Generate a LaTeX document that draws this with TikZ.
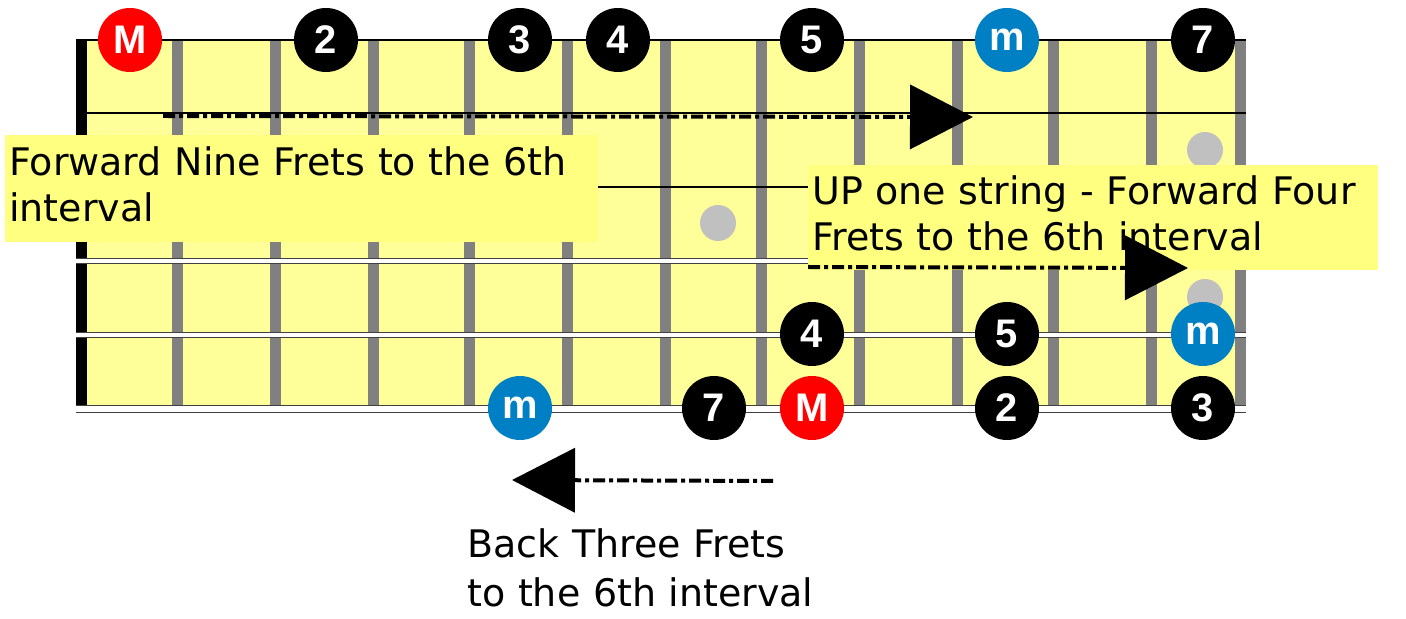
\documentclass[tikz,border=0pt]{standalone}
\usepackage{fontspec}
\setmainfont{DejaVu Sans}
\newfontfamily\notefont{Liberation Sans}
\usetikzlibrary{arrows.meta}
\definecolor{neck-yellow}{HTML}{FFFF99}
\definecolor{tag-yellow}{HTML}{FFFF80}
\definecolor{fret-grey}{HTML}{808080}
\definecolor{inlay-grey}{HTML}{C0C0C0}
\definecolor{root-red}{HTML}{FF0000}
\definecolor{minor-blue}{HTML}{0080C4}
\colorlet{degree}{black}
\tikzset{
  note/.style={circle, inner sep=0pt, minimum size=12.8mm, text=white, font=\notefont\bfseries\fontsize{22.7}{24}\selectfont},
  tag/.style={fill=tag-yellow, anchor=north west, align=left, inner xsep=0.8mm, inner ysep=0pt, font=\fontsize{21.6}{26.4}\selectfont},
  move-path/.style={line width=0.8mm, dash pattern=on 2.4mm off 0.8mm on 0.8mm off 0.8mm, -{Triangle[length=12.6mm, width=12.8mm]}},
  plain-string/.style={line width=0.3mm},
  wound-string/.style={draw=black!75, line width=0.3mm, double=white, double distance=#1},
}

\begin{document}
\begin{tikzpicture}[x=0.2mm, y=-0.2mm]
\useasboundingbox (0,0) rectangle (1406,619);
% neck, frets and nut
\fill[neck-yellow] (80,40) rectangle (1246,413);
\foreach \x in {177,275,373,469,567,665,761,859,957,1053,1151,1240}
  \fill[fret-grey] (\x-5.5,40) rectangle (\x+5.5,413);
\fill (76,40) rectangle (87,413);
% strings
\foreach \y in {40,113,187}
  \draw[plain-string] (76,\y) -- (1246,\y);
\draw[wound-string=0.7mm] (76,261) -- (1246,261);
\draw[wound-string=0.7mm] (76,335) -- (1246,335);
\draw[wound-string=1.1mm] (76,409) -- (1246,409);
% inlays
\fill[inlay-grey] (718,223) circle (3.6mm);
\fill[inlay-grey] (1205,150) circle (3.6mm);
\fill[inlay-grey] (1205,297) circle (3.6mm);

% high string
\node[note, fill=root-red] at (130, 40) (high M) {M};
\node[note, fill=degree] at (326, 40) (high 2) {2};
\node[note, fill=degree] at (520, 40) (high 3) {3};
\node[note, fill=degree] at (618, 40) (high 4) {4};
\node[note, fill=degree] at (812, 40) (high 5) {5};
\node[note, fill=minor-blue] at (1007, 40) (high m) {m};
\node[note, fill=degree] at (1203, 40) (high 7) {7};
% A string
\node[note, fill=degree] at (812, 334) (A 4) {4};
\node[note, fill=degree] at (1007, 334) (A 5) {5};
\node[note, fill=minor-blue] at (1203, 334) (A m) {m};
% low string
\node[note, fill=minor-blue] at (520, 408) (low m) {m};
\node[note, fill=degree] at (714, 408) (low 7) {7};
\node[note, fill=root-red] at (812, 408) (low M) {M};
\node[note, fill=degree] at (1007, 408) (low 2) {2};
\node[note, fill=degree] at (1203, 408) (low 3) {3};

% moves
\node[tag, text width=117mm, text height=8mm, text depth=13.4mm] at (5, 135) (nine tag)
  {Forward Nine Frets to the 6th\\interval};
\node[tag, text width=112.4mm, text height=7.8mm, text depth=13.2mm] at (808, 165) (four tag)
  {UP one string - Forward Four\\Frets to the 6th interval};
\node[anchor=base west, align=left, text width=80mm, inner sep=0pt, font=\fontsize{21.6}{27.8}\selectfont] at (467, 558) (three tag)
  {Back Three Frets\\to the 6th interval};

\coordinate (nine from) at (163, 116);
\coordinate (nine to) at (973, 117);
\coordinate (four from) at (808, 267);
\coordinate (four to) at (1188, 268);
\coordinate (three from) at (773, 481);
\coordinate (three to) at (512, 480);
\draw[move-path] (nine from) -- (nine to);
\draw[move-path] (four from) -- (four to);
\draw[move-path] (three from) -- (three to);
\end{tikzpicture}
\end{document}
